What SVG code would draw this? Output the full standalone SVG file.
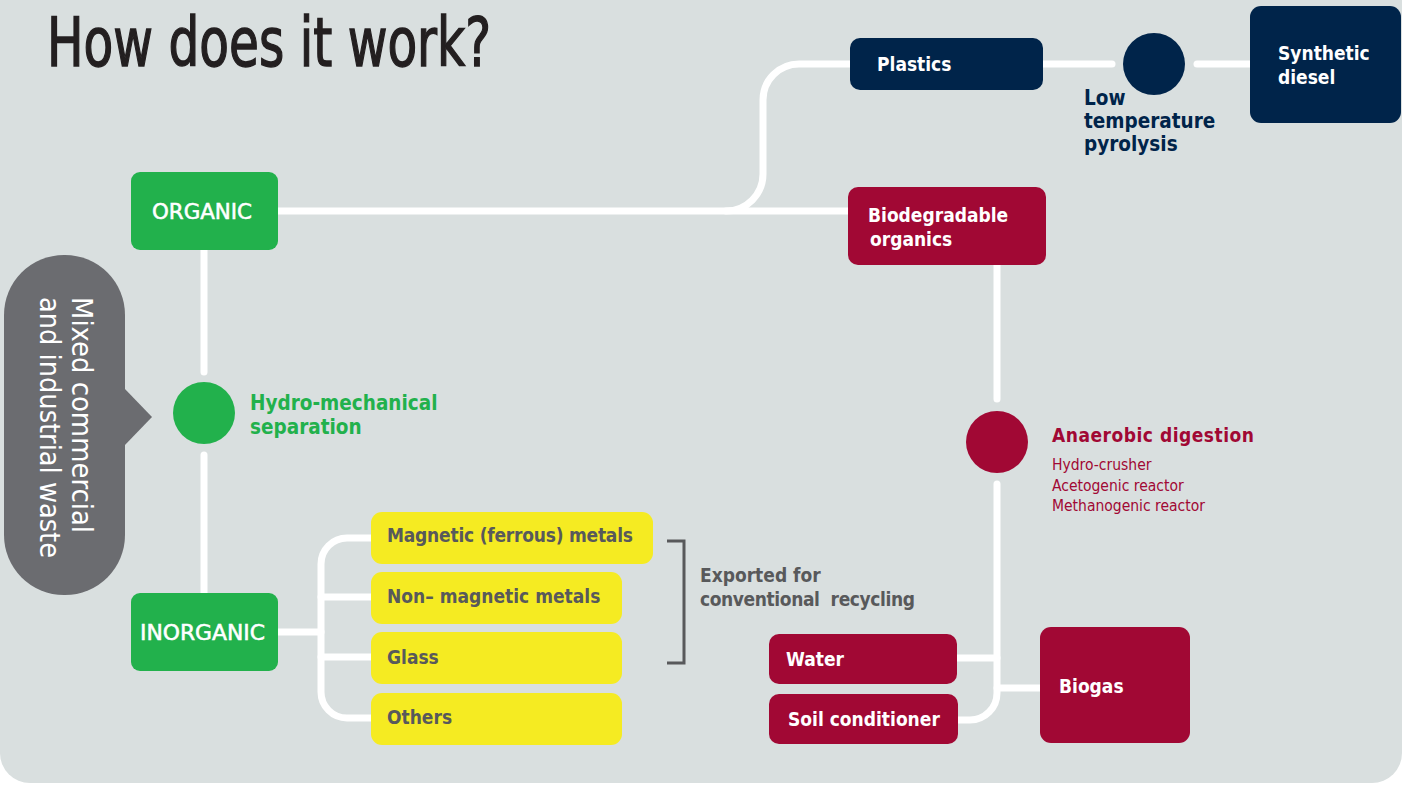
<svg xmlns="http://www.w3.org/2000/svg" width="1402" height="785" viewBox="0 0 1402 785">
  <style>
    .lbl { font-family: "DejaVu Sans Condensed", "DejaVu Sans", sans-serif; font-weight: bold; font-size: 19px; }
    .cat { font-family: "DejaVu Sans Condensed", "DejaVu Sans", sans-serif; font-size: 21px; fill: #ffffff; stroke: #ffffff; stroke-width: 0.5; }
    .note { font-size: 20.5px; }
    .w { fill: #ffffff; }
    .navy { fill: #00244a; }
    .green { fill: #22b14c; }
    .red { fill: #a10834; }
    .yellow { fill: #f5eb22; }
    .dark { fill: #58595b; }
    .sub { font-family: "DejaVu Sans Condensed", "DejaVu Sans", sans-serif; font-size: 15.5px; fill: #a10834; }
    .conn { fill: none; stroke: #ffffff; stroke-width: 7; stroke-linecap: round; stroke-linejoin: round; }
  </style>

  <!-- panel -->
  <rect x="0" y="-40" width="1402" height="823" rx="30" fill="#d9dfdf"/>

  <text x="47" y="66" font-family="DejaVu Sans Condensed, DejaVu Sans, sans-serif" font-size="68" fill="#231f20" stroke="#231f20" stroke-width="1.4" textLength="444" lengthAdjust="spacingAndGlyphs">How does it work?</text>

  <!-- connectors -->
  <g id="connectors" class="conn">
    <path d="M278 211 H848"/>
    <path d="M726 211 A37 37 0 0 0 763 174 V100 A36 36 0 0 1 799 64 H850"/>
    <path d="M1043 64 H1112"/>
    <path d="M1197 64 H1250"/>
    <path d="M204 250 V372"/>
    <path d="M204 455 V593"/>
    <path d="M278 632 H321"/>
    <path d="M371 538 H347 A26 26 0 0 0 321 564 V692 A26 26 0 0 0 347 718 H371"/>
    <path d="M321 597 H371"/>
    <path d="M321 657 H371"/>
    <path d="M997 265 V399"/>
    <path d="M997 484 V693 A27 27 0 0 1 970 720 H958"/>
    <path d="M957 658 H997"/>
    <path d="M997 688 H1040"/>
  </g>

  <!-- input callout -->
  <g id="input">
    <rect x="4" y="255" width="121" height="340" rx="60" fill="#6b6c70"/>
    <path d="M124 388 L152 417 L124 446 Z" fill="#6b6c70"/>
    <g transform="translate(72 297) rotate(90)" font-family="DejaVu Sans Condensed, DejaVu Sans, sans-serif" font-size="29" fill="#ffffff">
      <text x="0" y="0" textLength="236" lengthAdjust="spacingAndGlyphs">Mixed commercial</text>
      <text x="0" y="32" textLength="261" lengthAdjust="spacingAndGlyphs">and industrial waste</text>
    </g>
  </g>

  <g id="separation">
    <circle cx="204" cy="413" r="31" class="green"/>
    <text class="lbl note green" x="250" y="410">Hydro-mechanical</text>
    <text class="lbl note green" x="250" y="434">separation</text>
  </g>

  <g id="organic">
    <rect x="131" y="172" width="147" height="78" rx="9" class="green"/>
    <text class="cat" x="152" y="219" textLength="100" lengthAdjust="spacingAndGlyphs">ORGANIC</text>
  </g>

  <g id="inorganic">
    <rect x="131" y="593" width="147" height="78" rx="9" class="green"/>
    <text class="cat" x="140" y="640" textLength="125" lengthAdjust="spacingAndGlyphs">INORGANIC</text>
  </g>

  <g id="plastics">
    <rect x="850" y="38" width="193" height="52" rx="10" class="navy"/>
    <text class="lbl w" x="877" y="71">Plastics</text>
  </g>

  <g id="pyrolysis">
    <circle cx="1154" cy="64" r="31" class="navy"/>
    <text class="lbl note navy" x="1084" y="105">Low</text>
    <text class="lbl note navy" x="1084" y="128">temperature</text>
    <text class="lbl note navy" x="1084" y="151">pyrolysis</text>
  </g>

  <g id="diesel">
    <rect x="1250" y="6" width="151" height="117" rx="11" class="navy"/>
    <text class="lbl w" x="1278" y="60">Synthetic</text>
    <text class="lbl w" x="1278" y="84">diesel</text>
  </g>

  <g id="biodegradable">
    <rect x="848" y="187" width="198" height="78" rx="10" class="red"/>
    <text class="lbl w" x="868" y="222">Biodegradable</text>
    <text class="lbl w" x="870" y="246">organics</text>
  </g>

  <g id="digestion">
    <circle cx="997" cy="442" r="31" class="red"/>
    <text class="lbl red" x="1052" y="442" font-size="21" textLength="202">Anaerobic digestion</text>
    <text class="sub" x="1052" y="470">Hydro-crusher</text>
    <text class="sub" x="1052" y="491">Acetogenic reactor</text>
    <text class="sub" x="1052" y="511">Methanogenic reactor</text>
  </g>

  <g id="magnetic">
    <rect x="371" y="512" width="282" height="52" rx="11" class="yellow"/>
    <text class="lbl dark" x="387" y="542" textLength="246">Magnetic (ferrous) metals</text>
  </g>
  <g id="nonmagnetic">
    <rect x="371" y="572" width="251" height="52" rx="11" class="yellow"/>
    <text class="lbl dark" x="387" y="603">Non– magnetic metals</text>
  </g>
  <g id="glass">
    <rect x="371" y="632" width="251" height="52" rx="11" class="yellow"/>
    <text class="lbl dark" x="387" y="664">Glass</text>
  </g>
  <g id="others">
    <rect x="371" y="693" width="251" height="52" rx="11" class="yellow"/>
    <text class="lbl dark" x="387" y="724">Others</text>
  </g>

  <g id="exported">
    <path d="M667 541 H684 V663 H667" fill="none" stroke="#58595b" stroke-width="3"/>
    <text class="lbl dark" x="700" y="582">Exported for</text>
    <text class="lbl dark" x="700" y="606" xml:space="preserve" textLength="215">conventional  recycling</text>
  </g>

  <g id="water">
    <rect x="769" y="634" width="188" height="50" rx="10" class="red"/>
    <text class="lbl w" x="786" y="666">Water</text>
  </g>
  <g id="soil">
    <rect x="769" y="694" width="189" height="50" rx="10" class="red"/>
    <text class="lbl w" x="788" y="726">Soil conditioner</text>
  </g>
  <g id="biogas">
    <rect x="1040" y="627" width="150" height="116" rx="11" class="red"/>
    <text class="lbl w" x="1059" y="693">Biogas</text>
  </g>
</svg>
